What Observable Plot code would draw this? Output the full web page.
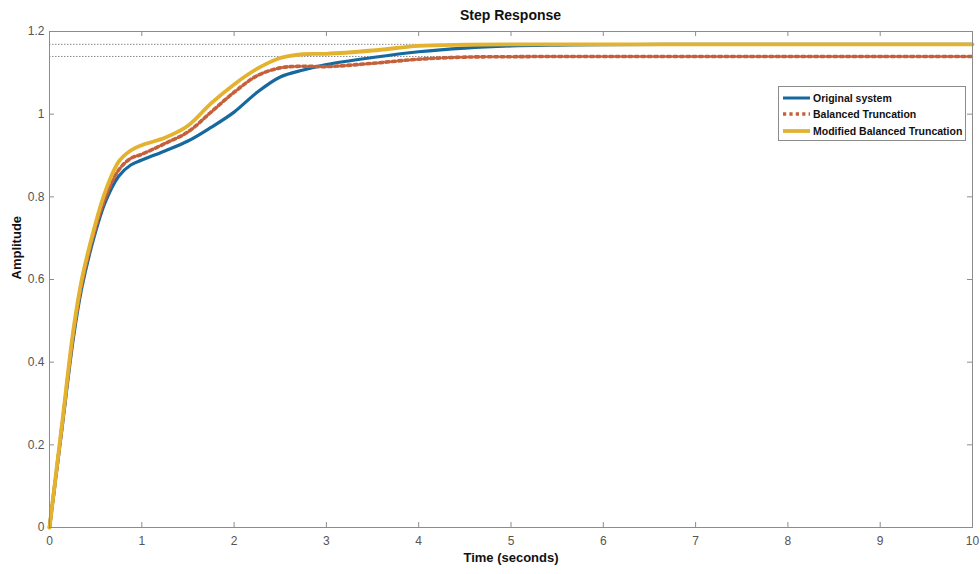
<!DOCTYPE html>
<html><head><meta charset="utf-8">
<script src="https://cdn.jsdelivr.net/npm/d3@7"></script>
<script src="https://cdn.jsdelivr.net/npm/@observablehq/plot@0.6"></script>
<style>
body{margin:0;background:#fff;font-family:"Liberation Sans",Arial,sans-serif;}
#wrap{position:relative;width:980px;height:574px;overflow:hidden;}
#title{position:absolute;left:0;top:7px;width:1021px;text-align:center;font-weight:bold;font-size:14px;color:#111;z-index:2;}
#chart{position:absolute;left:0;top:0;}
#legend{position:absolute;left:778px;top:86px;width:188px;height:55px;border:1px solid #8c8c8c;background:#fff;box-sizing:border-box;z-index:3;}
#legend .row{position:absolute;left:3px;height:17px;display:flex;align-items:center;font-weight:bold;font-size:10.5px;color:#111;white-space:nowrap;}
#legend svg{margin-right:3px;}
</style>
</head><body>
<div id="wrap">
  <div id="title">Step Response</div>
  <div id="chart"></div>
  <div id="legend"></div>
</div>
<script>
// ---- data ----
const time = [0,0.13,0.26,0.35,0.48,0.6,0.75,0.88,1.0,1.25,1.5,1.75,2.0,2.25,2.5,2.75,3.0,3.5,4,4.5,5,5.5,6,7,8,9,10];
const originalSystem = [0,0.23,0.46,0.58,0.70,0.785,0.85,0.877,0.889,0.911,0.935,0.968,1.005,1.053,1.090,1.107,1.120,1.137,1.151,1.160,1.165,1.167,1.168,1.169,1.169,1.169,1.169];
const balancedTruncation = [0,0.235,0.47,0.59,0.71,0.795,0.865,0.893,0.903,0.929,0.957,1.005,1.053,1.093,1.112,1.116,1.115,1.123,1.133,1.138,1.139,1.1396,1.1396,1.1396,1.1396,1.1396,1.1396];
const modifiedBT = [0,0.24,0.48,0.60,0.72,0.81,0.885,0.912,0.925,0.943,0.972,1.026,1.072,1.110,1.136,1.145,1.146,1.154,1.165,1.168,1.169,1.169,1.169,1.169,1.169,1.169,1.169];
const steadyStates = [1.169, 1.1396];
const seriesNames = ["Original system","Balanced Truncation","Modified Balanced Truncation"];
const xTicks = [0,1,2,3,4,5,6,7,8,9,10];
const yTicks = [0,0.2,0.4,0.6,0.8,1,1.2];

const colors = ["#16699f","#c6603a","#e3b22f"];
const toRows = vals => time.map((t,i)=>({t, v: vals[i]}));

const W=980,H=574,mL=49,mR=8,mT=31,mB=47;
const innerH=H-mT-mB, innerW=W-mL-mR;
const axisGrey="#8c8c8c";

const chart = Plot.plot({
  width:W,height:H,marginLeft:mL,marginRight:mR,marginTop:mT,marginBottom:mB,
  x:{domain:[0,10]}, y:{domain:[0,1.2]},
  style:{fontFamily:'"Liberation Sans",Arial,sans-serif',fontSize:"12px",color:"#555",background:"transparent",overflow:"visible"},
  marks:[
    Plot.ruleY(steadyStates,{y:d=>d,stroke:"#8a8a8a",strokeWidth:1,strokeDasharray:"1.5,1.5"}),
    Plot.line(toRows(originalSystem),{x:"t",y:"v",stroke:colors[0],strokeWidth:3.2,curve:"catmull-rom"}),
    Plot.line(toRows(balancedTruncation),{x:"t",y:"v",stroke:colors[1],strokeWidth:3.6,strokeDasharray:"3.2,3.2",curve:"catmull-rom"}),
    Plot.line(toRows(modifiedBT),{x:"t",y:"v",stroke:colors[2],strokeWidth:3.8,curve:"catmull-rom"}),
    Plot.frame({stroke:axisGrey,strokeWidth:1}),
    Plot.tickX(xTicks,{x:d=>d,insetTop:innerH-5,stroke:axisGrey}),
    Plot.tickX(xTicks,{x:d=>d,insetBottom:innerH-5,stroke:axisGrey}),
    Plot.tickY(yTicks,{y:d=>d,insetRight:innerW-5,stroke:axisGrey}),
    Plot.tickY(yTicks,{y:d=>d,insetLeft:innerW-5,stroke:axisGrey}),
    Plot.axisX(xTicks,{tickSize:0,tickPadding:9,label:null,tickFormat:d=>String(d)}),
    Plot.axisY(yTicks,{tickSize:0,tickPadding:5,label:null,tickFormat:d=>String(d)}),
    Plot.text(["Time (seconds)"],{text:d=>d,frameAnchor:"bottom",dy:34,fontWeight:"bold",fontSize:13,fill:"#111"}),
    Plot.text(["Amplitude"],{text:d=>d,frameAnchor:"left",dx:-33,rotate:-90,fontWeight:"bold",fontSize:13,fill:"#111"})
  ]
});
document.getElementById("chart").appendChild(chart);

// legend
const legend = document.getElementById("legend");
seriesNames.forEach((name,i)=>{
  const row=document.createElement("div");
  row.className="row";
  row.style.top=(2+i*16.5)+"px";
  const dash = i===1 ? 'stroke-dasharray="3.2,3.2"' : '';
  const sw = i===0?3:(i===1?3.4:3.8);
  row.innerHTML=`<svg width="28" height="8"><line x1="1" y1="4" x2="28" y2="4" stroke="${colors[i]}" stroke-width="${sw}" ${dash}/></svg><span>${name}</span>`;
  legend.appendChild(row);
});
</script>
</body></html>
